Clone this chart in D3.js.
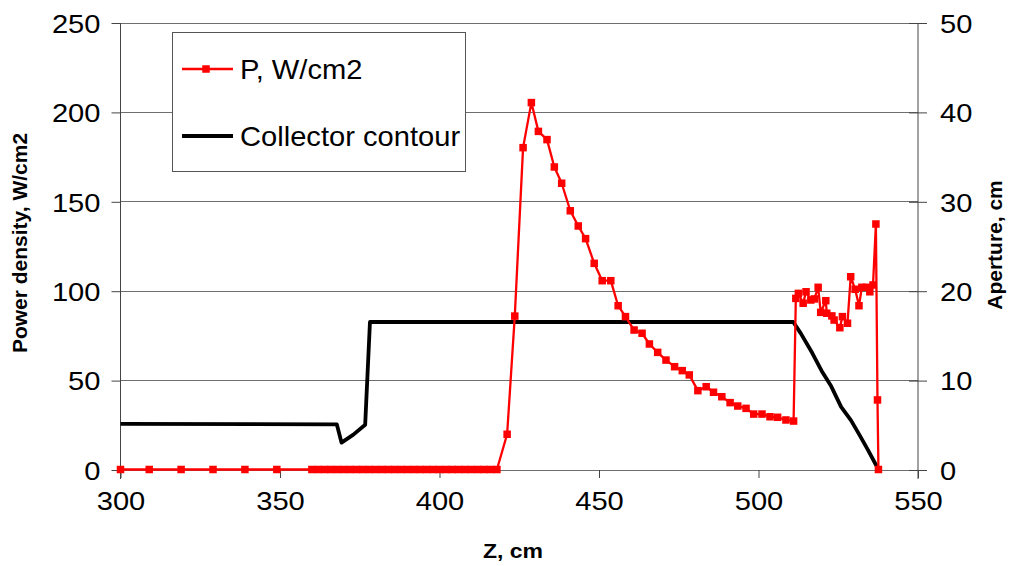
<!DOCTYPE html>
<html>
<head>
<meta charset="utf-8">
<script src="https://cdn.jsdelivr.net/npm/d3@7"></script>
<style>
  body { margin: 0; background: #fff; }
  svg { font-family: "Liberation Sans", Arial, sans-serif; }
</style>
</head>
<body>
<svg id="chart" width="1011" height="566"></svg>
<script>
// power density P, W/cm2 vs Z, cm
var zPower = [300, 309, 319, 329, 339, 349,
    360, 362, 364, 366, 368, 370, 372, 374, 376, 378, 380, 382, 384, 386, 388,
    390, 392, 394, 396, 398, 400, 402, 404, 406, 408, 410, 412, 414, 416, 418,
    421.2, 423.6, 426.2, 428.8, 431, 433.7, 436, 438.3, 441, 443.5, 445.8, 448.5,
    451, 453.7, 456, 458.3, 461, 463.5, 465.8, 468.4, 471, 473.7, 476.1, 478.3,
    481, 483.6, 485.9, 488.5, 491.1, 493.5, 496.1, 498.5, 501.1, 503.6, 506, 508.6,
    511, 511.7, 512.5, 514, 514.9, 516.4, 517.5, 518.7, 519.5, 521.1, 521.4, 523,
    523.7, 525.5, 526.3, 527.9, 528.9, 530.3, 531.5, 532.4, 533.8, 534.9, 535.9,
    536.8, 537.3, 537.6];
var power = [0, 0, 0, 0, 0, 0,
    0, 0, 0, 0, 0, 0, 0, 0, 0, 0, 0, 0, 0, 0, 0,
    0, 0, 0, 0, 0, 0, 0, 0, 0, 0, 0, 0, 0, 0, 0,
    19.7, 85.8, 180, 205.2, 189.1, 184.5, 169.2, 160.1, 144.7, 136.2, 129.1, 115.3,
    105.6, 105.6, 91.6, 85.5, 78, 76.2, 70.2, 65.5, 61.2, 57.5, 55.3, 52.9,
    44.1, 46.3, 43.2, 40.7, 37.4, 35.5, 34.2, 31, 31, 29.5, 29.2, 27.7,
    27.1, 95.7, 98.5, 93, 99.4, 94.8, 95.4, 101.9, 87.9, 94.4, 87.4, 85.9,
    83.6, 79.3, 85.5, 81.8, 107.8, 100.8, 91.6, 101.9, 101.9, 99.4, 103.2,
    137.3, 38.9, 0];

// collector contour (aperture, cm) vs Z, cm
var zContour = [300, 367.8, 369.3, 373, 376.7, 378.2, 510.9, 513.3, 516.9, 520,
    522.8, 525.9, 529, 531.6, 534.3, 537.6];
var aperture = [5.1, 5.05, 3.0, 3.9, 5.0, 16.5, 16.5, 15.2, 13.0, 10.9,
    9.3, 7.0, 5.5, 3.9, 2.2, 0];

var xTicks = [300, 350, 400, 450, 500, 550];
var leftTicks = [0, 50, 100, 150, 200, 250];
var rightTicks = [0, 10, 20, 30, 40, 50];

var legendLabels = ["P, W/cm2", "Collector contour"];

var plot = {left: 120.5, right: 918, top: 22.5, bottom: 469.5};

var svg = d3.select("#chart");

var x = d3.scaleLinear().domain([300, 550]).range([plot.left, plot.right]);
var y = d3.scaleLinear().domain([0, 250]).range([plot.bottom, plot.top]);
var y2 = d3.scaleLinear().domain([0, 50]).range([plot.bottom, plot.top]);

// stretch horizontal text a bit, the original export is wider than tall
function stretch(sel, k) {
    sel.each(function () {
        var w = this.getComputedTextLength();
        d3.select(this).attr("textLength", w * k).attr("lengthAdjust", "spacingAndGlyphs");
    });
}

// grid lines
svg.append("g")
    .selectAll("line")
    .data(leftTicks)
    .enter()
    .append("line")
    .attr("x1", plot.left)
    .attr("x2", plot.right)
    .attr("y1", function (d) { return Math.round(y(d)) + 0.5; })
    .attr("y2", function (d) { return Math.round(y(d)) + 0.5; })
    .attr("stroke", "#6e6e6e")
    .attr("stroke-width", 1);

// left axis
var leftAxis = svg.append("g")
    .attr("transform", "translate(" + plot.left + ",0.5)")
    .call(d3.axisLeft(y).tickValues(leftTicks).tickSize(9).tickPadding(11).tickSizeOuter(0));
leftAxis.select(".domain").remove();
leftAxis.append("line").attr("x1", 0).attr("x2", 0).attr("y1", plot.top).attr("y2", plot.bottom + 9).attr("stroke", "#444");

// right axis
var rightAxis = svg.append("g")
    .attr("transform", "translate(" + plot.right + ",0.5)")
    .call(d3.axisRight(y2).tickValues(rightTicks).tickSize(9).tickPadding(13).tickSizeOuter(0));
rightAxis.select(".domain").remove();
rightAxis.selectAll(".tick line").attr("x1", -9);
rightAxis.append("line").attr("x1", 0).attr("x2", 0).attr("y1", plot.top).attr("y2", plot.bottom + 9).attr("stroke", "#444");

// bottom axis
var bottomAxis = svg.append("g")
    .attr("transform", "translate(0," + (plot.bottom + 0.5) + ")")
    .call(d3.axisBottom(x).tickValues(xTicks).tickSize(8).tickPadding(14).tickSizeOuter(0));
bottomAxis.select(".domain").remove();

svg.selectAll(".tick line").attr("stroke", "#444");
svg.selectAll(".tick text")
    .attr("font-size", "26px")
    .attr("font-family", "Liberation Sans, Arial, sans-serif")
    .attr("fill", "#000");
leftAxis.selectAll(".tick text").attr("dy", "0.36em");
rightAxis.selectAll(".tick text").attr("dy", "0.36em");
svg.selectAll(".tick text").call(stretch, 1.12);

// collector contour line
var contourData = zContour.map(function (z, i) { return {z: z, a: aperture[i]}; });
svg.append("path")
    .datum(contourData)
    .attr("fill", "none")
    .attr("stroke", "#000")
    .attr("stroke-width", 3.8)
    .attr("stroke-linejoin", "round")
    .attr("d", d3.line()
        .x(function (d) { return x(d.z); })
        .y(function (d) { return y2(d.a); }));

// power density line + markers
var powerData = zPower.map(function (z, i) { return {z: z, p: power[i]}; });
svg.append("path")
    .datum(powerData)
    .attr("fill", "none")
    .attr("stroke", "#ff0000")
    .attr("stroke-width", 2.3)
    .attr("stroke-linejoin", "round")
    .attr("d", d3.line()
        .x(function (d) { return x(d.z); })
        .y(function (d) { return y(d.p); }));

svg.append("g")
    .selectAll("rect")
    .data(powerData)
    .enter()
    .append("rect")
    .attr("x", function (d) { return x(d.z) - 3.75; })
    .attr("y", function (d) { return y(d.p) - 3.75; })
    .attr("width", 7.5)
    .attr("height", 7.5)
    .attr("fill", "#ff0000");

// legend
var legend = svg.append("g");
legend.append("rect")
    .attr("x", 172.5)
    .attr("y", 32.5)
    .attr("width", 293)
    .attr("height", 139)
    .attr("fill", "#fff")
    .attr("stroke", "#555")
    .attr("stroke-width", 1);

legend.append("line")
    .attr("x1", 182).attr("x2", 233).attr("y1", 69).attr("y2", 69)
    .attr("stroke", "#ff0000").attr("stroke-width", 2.3);
legend.append("rect")
    .attr("x", 202.25).attr("y", 65.25).attr("width", 7.5).attr("height", 7.5)
    .attr("fill", "#ff0000");
legend.append("line")
    .attr("x1", 182).attr("x2", 233).attr("y1", 136).attr("y2", 136)
    .attr("stroke", "#000").attr("stroke-width", 3.8);

legend.selectAll("text")
    .data(legendLabels)
    .enter()
    .append("text")
    .attr("x", 240)
    .attr("y", function (d, i) { return 79 + i * 67; })
    .attr("font-size", "28px")
    .attr("fill", "#000")
    .text(function (d) { return d; })
    .call(stretch, 1.04);

// axis titles
svg.append("text")
    .attr("transform", "translate(27,243) rotate(-90)")
    .attr("text-anchor", "middle")
    .attr("font-size", "21px")
    .attr("font-weight", "bold")
    .text("Power density, W/cm2");

svg.append("text")
    .attr("transform", "translate(1002,245) rotate(-90)")
    .attr("text-anchor", "middle")
    .attr("font-size", "21px")
    .attr("font-weight", "bold")
    .text("Aperture, cm");

svg.append("text")
    .attr("x", 513)
    .attr("y", 558)
    .attr("text-anchor", "middle")
    .attr("font-size", "20px")
    .attr("font-weight", "bold")
    .text("Z, cm")
    .call(stretch, 1.15);
</script>
</body>
</html>
